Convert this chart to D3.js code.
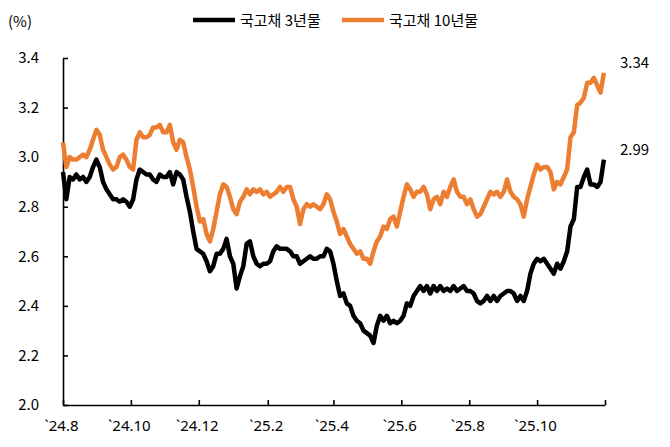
<!DOCTYPE html>
<html>
<head>
<meta charset="utf-8">
<script src="https://cdn.jsdelivr.net/npm/d3@7"></script>
<style>
  body { margin: 0; background: #fff; }
  svg text { font-family: "Noto Sans CJK KR", "Noto Sans", sans-serif; fill: #000; }
</style>
</head>
<body>
<svg id="chart" width="670" height="447"></svg>
<script>
// observation dates (every 3 days)
const dates = [
  '2024-08-01','2024-08-04','2024-08-07','2024-08-10','2024-08-13','2024-08-16','2024-08-19','2024-08-22','2024-08-25','2024-08-28',
  '2024-08-31','2024-09-03','2024-09-06','2024-09-09','2024-09-12','2024-09-15','2024-09-18','2024-09-21','2024-09-24','2024-09-27',
  '2024-09-30','2024-10-03','2024-10-06','2024-10-09','2024-10-12','2024-10-15','2024-10-18','2024-10-21','2024-10-24','2024-10-27',
  '2024-10-30','2024-11-02','2024-11-05','2024-11-08','2024-11-11','2024-11-14','2024-11-17','2024-11-20','2024-11-23','2024-11-26',
  '2024-11-29','2024-12-02','2024-12-05','2024-12-08','2024-12-11','2024-12-14','2024-12-17','2024-12-20','2024-12-23','2024-12-26',
  '2024-12-29','2025-01-01','2025-01-04','2025-01-07','2025-01-10','2025-01-13','2025-01-16','2025-01-19','2025-01-22','2025-01-25',
  '2025-01-28','2025-01-31','2025-02-03','2025-02-06','2025-02-09','2025-02-12','2025-02-15','2025-02-18','2025-02-21','2025-02-24',
  '2025-02-27','2025-03-02','2025-03-05','2025-03-08','2025-03-11','2025-03-14','2025-03-17','2025-03-20','2025-03-23','2025-03-26',
  '2025-03-29','2025-04-01','2025-04-04','2025-04-07','2025-04-10','2025-04-13','2025-04-16','2025-04-19','2025-04-22','2025-04-25',
  '2025-04-28','2025-05-01','2025-05-04','2025-05-07','2025-05-10','2025-05-13','2025-05-16','2025-05-19','2025-05-22','2025-05-25',
  '2025-05-28','2025-05-31','2025-06-03','2025-06-06','2025-06-09','2025-06-12','2025-06-15','2025-06-18','2025-06-21','2025-06-24',
  '2025-06-27','2025-06-30','2025-07-03','2025-07-06','2025-07-09','2025-07-12','2025-07-15','2025-07-18','2025-07-21','2025-07-24',
  '2025-07-27','2025-07-30','2025-08-02','2025-08-05','2025-08-08','2025-08-11','2025-08-14','2025-08-17','2025-08-20','2025-08-23',
  '2025-08-26','2025-08-29','2025-09-01','2025-09-04','2025-09-07','2025-09-10','2025-09-13','2025-09-16','2025-09-19','2025-09-22',
  '2025-09-25','2025-09-28','2025-10-01','2025-10-04','2025-10-07','2025-10-10','2025-10-13','2025-10-16','2025-10-19','2025-10-22',
  '2025-10-25','2025-10-28','2025-10-31','2025-11-03','2025-11-06','2025-11-09','2025-11-12','2025-11-15','2025-11-18','2025-11-21',
  '2025-11-24','2025-11-27','2025-11-30'
]

// 국고채 3년물 (%)
const ktb3y = [
  2.94,2.83,2.92,2.91,2.93,2.91,2.92,2.90,2.92,2.96,
  2.99,2.96,2.90,2.87,2.85,2.83,2.83,2.82,2.83,2.82,
  2.80,2.83,2.91,2.95,2.94,2.93,2.93,2.91,2.90,2.93,
  2.92,2.92,2.94,2.89,2.94,2.93,2.91,2.84,2.78,2.70,
  2.63,2.62,2.61,2.58,2.54,2.56,2.61,2.61,2.63,2.67,
  2.60,2.57,2.47,2.52,2.56,2.65,2.66,2.60,2.57,2.56,
  2.57,2.57,2.58,2.62,2.64,2.63,2.63,2.63,2.62,2.60,
  2.60,2.57,2.58,2.59,2.60,2.59,2.59,2.60,2.60,2.63,
  2.62,2.57,2.50,2.44,2.45,2.41,2.40,2.36,2.34,2.33,
  2.30,2.29,2.28,2.25,2.32,2.36,2.34,2.36,2.33,2.34,
  2.33,2.34,2.36,2.41,2.40,2.44,2.46,2.48,2.46,2.48,
  2.45,2.48,2.46,2.48,2.46,2.47,2.46,2.48,2.46,2.47,
  2.48,2.46,2.46,2.45,2.42,2.41,2.42,2.44,2.42,2.44,
  2.42,2.44,2.45,2.46,2.46,2.45,2.42,2.44,2.42,2.46,
  2.53,2.57,2.59,2.58,2.59,2.57,2.55,2.53,2.57,2.55,
  2.58,2.62,2.72,2.75,2.88,2.88,2.92,2.95,2.89,2.89,
  2.88,2.90,2.99
]

// 국고채 10년물 (%)
const ktb10y = [
  3.06,2.96,3.00,2.99,2.99,3.00,3.01,3.00,3.03,3.07,
  3.11,3.09,3.03,3.00,2.97,2.95,2.96,3.00,3.01,2.99,
  2.96,2.95,3.07,3.10,3.08,3.08,3.09,3.12,3.12,3.13,
  3.10,3.10,3.13,3.06,3.03,3.07,3.06,3.00,2.95,2.88,
  2.80,2.74,2.75,2.69,2.66,2.71,2.78,2.85,2.89,2.88,
  2.84,2.79,2.77,2.82,2.84,2.87,2.85,2.87,2.86,2.87,
  2.85,2.86,2.84,2.85,2.86,2.88,2.86,2.88,2.88,2.83,
  2.80,2.73,2.79,2.81,2.80,2.81,2.80,2.79,2.81,2.85,
  2.83,2.78,2.74,2.69,2.71,2.68,2.65,2.63,2.61,2.62,
  2.59,2.59,2.57,2.62,2.66,2.68,2.72,2.71,2.75,2.76,
  2.72,2.78,2.84,2.89,2.87,2.84,2.86,2.86,2.88,2.85,
  2.79,2.83,2.84,2.81,2.86,2.84,2.88,2.91,2.86,2.84,
  2.84,2.81,2.83,2.79,2.76,2.77,2.80,2.83,2.86,2.85,
  2.86,2.84,2.86,2.91,2.86,2.84,2.83,2.81,2.76,2.83,
  2.88,2.93,2.97,2.95,2.96,2.96,2.94,2.87,2.90,2.89,
  2.92,2.95,3.08,3.10,3.21,3.22,3.24,3.30,3.30,3.32,
  3.29,3.26,3.34
]

const yTicks = [2.0, 2.2, 2.4, 2.6, 2.8, 3.0, 3.2, 3.4]
const xTickDates = ['2024-08-01','2024-10-01','2024-12-01','2025-02-01','2025-04-01','2025-06-01','2025-08-01','2025-10-01','2025-12-01']
const xTickLabels = ['`24.8','`24.10','`24.12','`25.2','`25.4','`25.6','`25.8','`25.10','']
const seriesNames = ['국고채 3년물', '국고채 10년물']
const endLabels = ['2.99', '3.34']

const parse = d3.timeParse('%Y-%m-%d')
const svg = d3.select('#chart')
const margin = { left: 63, right: 605, top: 58, bottom: 405 }
const colors = ['#000000', '#ed7d31']

const x = d3.scaleTime()
    .domain([parse('2024-08-01'), parse('2025-12-01')])
    .range([margin.left, margin.right])
const y = d3.scaleLinear().domain([2.0, 3.4]).range([margin.bottom, margin.top])

const tickDates = xTickDates.map(parse)
const axisX = d3.axisBottom(x)
    .tickValues(tickDates)
    .tickSizeInner(-5).tickSizeOuter(0).tickPadding(15)
    .tickFormat((d, i) => xTickLabels[i])
const axisY = d3.axisLeft(y)
    .tickValues(yTicks)
    .tickSizeInner(-5).tickSizeOuter(0).tickPadding(24)
    .tickFormat(d3.format('.1f'))

const gx = svg.append('g').attr('transform', `translate(0, ${margin.bottom})`).call(axisX)
gx.selectAll('text').attr('font-size', 15).attr('dx', -2)
    .style('font-family', '"Noto Sans", sans-serif')
const gy = svg.append('g').attr('transform', `translate(${margin.left}, 0)`).call(axisY)
gy.selectAll('text').attr('font-size', 15)
svg.selectAll('.domain, .tick line').attr('stroke', '#000').attr('stroke-width', 1.6)

const series = [ktb3y, ktb10y]
const lineGenerator = d3.line()
    .x((d, i) => x(parse(dates[i])))
    .y(d => y(d))

svg.selectAll('path.series').data(series)
    .join('path')
    .attr('class', 'series')
    .attr('fill', 'none')
    .attr('stroke', (d, i) => colors[i])
    .attr('stroke-width', 4.5)
    .attr('stroke-linejoin', 'round')
    .attr('d', d => lineGenerator(d))

// end value labels
svg.selectAll('text.endlabel').data(series)
    .join('text')
    .attr('class', 'endlabel')
    .attr('x', 620)
    .attr('y', d => y(d[d.length - 1]) - 5)
    .attr('font-size', 15)
    .text((d, i) => endLabels[i])

// unit
svg.append('text').attr('x', 8).attr('y', 27).attr('font-size', 15).text('(%)')

// legend
const legendX = [193, 342]
const lg = svg.selectAll('g.legend').data(seriesNames)
    .join('g')
    .attr('class', 'legend')
    .attr('transform', (d, i) => `translate(${legendX[i]}, 20)`)
lg.append('line').attr('x1', 0).attr('x2', 42).attr('y1', 0).attr('y2', 0)
    .attr('stroke', (d, i) => colors[i]).attr('stroke-width', 4.5)
lg.append('text').attr('x', 47).attr('y', 5.5).attr('font-size', 15).text(d => d)
</script>
</body>
</html>
